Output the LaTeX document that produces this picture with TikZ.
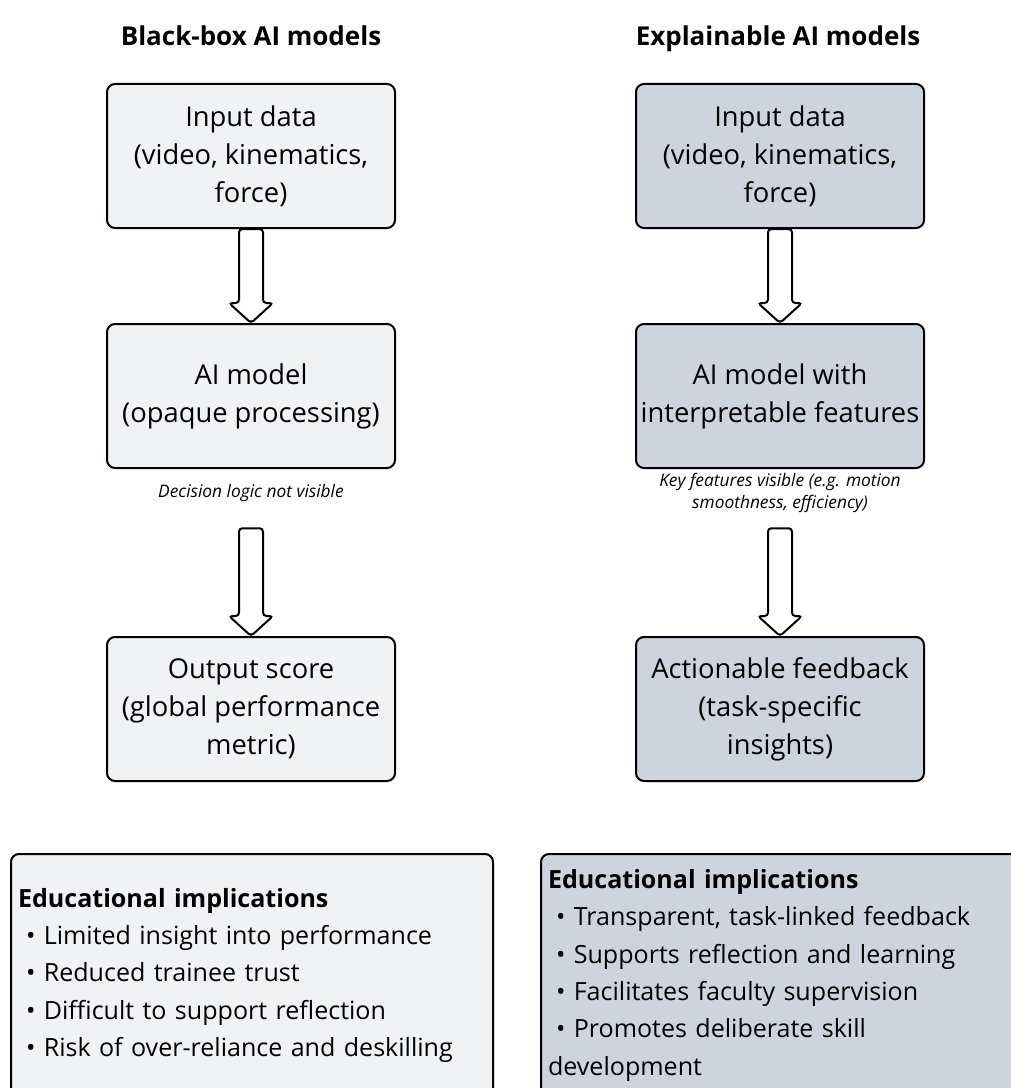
\documentclass[tikz,border=0pt]{standalone}
\usepackage{fontspec}
\setmainfont{Open Sans}
\usetikzlibrary{calc}

\definecolor{plaingray}{RGB}{241,242,244}
\definecolor{xaiblue}{RGB}{206,212,221}

\tikzset{
  coltitle/.style={anchor=base, font=\fontsize{19.5}{22}\selectfont\bfseries},
  flowbox/.style={draw=black, line width=1.5pt, rounded corners=6pt,
    minimum width=216pt, minimum height=108pt, align=center,
    font=\fontsize{20.5}{28.5}\selectfont},
  capnode/.style={minimum height=52.5pt, align=center,
    font=\fontsize{13}{16.5}\selectfont\itshape},
  implbox/.style={draw=black, line width=1.5pt, rounded corners=6pt,
    minimum height=182pt, text width=351pt, inner xsep=5.25pt,
    align=left, anchor=north west, font=\fontsize{18.8}{28}\selectfont},
  hollowarrow/.style={draw=black, line width=1.5pt, rounded corners=2.5pt, fill=white,
    to path={($(\tikztostart)+(-12,0)$) -- ($(\tikztotarget)+(-12,-20)$)
      -- ($(\tikztotarget)+(-22,-20)$) -- (\tikztotarget)
      -- ($(\tikztotarget)+(22,-20)$) -- ($(\tikztotarget)+(12,-20)$)
      -- ($(\tikztostart)+(12,0)$) -- cycle}}
}

\begin{document}
\begin{tikzpicture}[x=0.75pt,y=-0.75pt]
  \useasboundingbox (0,0) rectangle (1010,1088);

  % column titles
  \node[coltitle] (ltitle) at (251,46) {Black-box AI models};
  \node[coltitle] (rtitle) at (778,46) {Explainable AI models};

  % black-box column
  \node[flowbox, fill=plaingray] (lbox1) at (251,156) {Input data\\(video, kinematics,\\force)};
  \node[flowbox, fill=plaingray] (lbox2) at (251,396) {AI model\\(opaque processing)};
  \node[capnode] (lcap) at (251,493) {Decision logic not visible};
  \node[flowbox, fill=plaingray] (lbox3) at (251,709) {Output score\\(global performance\\metric)};

  % explainable column
  \node[flowbox, fill=xaiblue] (rbox1) at (780,156) {Input data\\(video, kinematics,\\force)};
  \node[flowbox, fill=xaiblue] (rbox2) at (780,396) {AI model with\\interpretable features};
  \node[capnode] (rcap) at (780,493) {Key features visible (e.g. motion\\smoothness, efficiency)};
  \node[flowbox, fill=xaiblue] (rbox3) at (780,709) {Actionable feedback\\(task-specific\\insights)};

  \draw[hollowarrow] (lbox1.south) to (lbox2.north);
  \draw[hollowarrow] (lcap.south) to (lbox3.north);
  \draw[hollowarrow] (rbox1.south) to (rbox2.north);
  \draw[hollowarrow] (rcap.south) to (rbox3.north);

  % implications
  \node[implbox, fill=plaingray] (limpl) at (10,853) {\textbf{Educational implications}\\
    \hspace*{6pt}\textbullet\ Limited insight into performance\\
    \hspace*{6pt}\textbullet\ Reduced trainee trust\\
    \hspace*{6pt}\textbullet\ Difficult to support reflection\\
    \hspace*{6pt}\textbullet\ Risk of over-reliance and deskilling};
  \node[implbox, fill=xaiblue] (rimpl) at (540,853) {\textbf{Educational implications}\\
    \hspace*{6pt}\textbullet\ Transparent, task-linked feedback\\
    \hspace*{6pt}\textbullet\ Supports reflection and learning\\
    \hspace*{6pt}\textbullet\ Facilitates faculty supervision\\
    \hspace*{6pt}\textbullet\ Promotes deliberate skill\\
    development};
\end{tikzpicture}
\end{document}
